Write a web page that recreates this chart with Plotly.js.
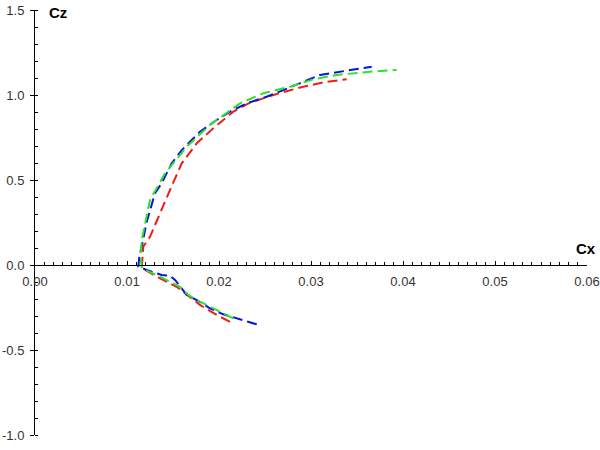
<!DOCTYPE html>
<html>
<head>
<meta charset="utf-8">
<script src="https://cdn.plot.ly/plotly-3.0.1.min.js"></script>
<style>html,body{margin:0;padding:0;background:#fff;}#chart{width:600px;height:450px;}</style>
</head>
<body>
<div id="chart"></div>
<script>
// Blue series (lower branch end -> upper branch end)
const blueCx = [0.0241, 0.02228, 0.02047, 0.01902, 0.01758, 0.01649, 0.01576, 0.01522, 0.01467, 0.01377, 0.01214, 0.01123,
  0.01136, 0.0116, 0.01214, 0.01304, 0.01377, 0.01486, 0.01595, 0.01793, 0.01975, 0.0212, 0.02301, 0.02518, 0.02699, 0.02916, 0.03098, 0.03388, 0.0366];
const blueCz = [-0.349, -0.318, -0.29, -0.255, -0.206, -0.176, -0.122, -0.088, -0.063, -0.059, -0.029, -0.01,
  0.059, 0.108, 0.253, 0.422, 0.481, 0.598, 0.676, 0.784, 0.853, 0.902, 0.951, 0.99, 1.029, 1.078, 1.118, 1.143, 1.166];

// Green series
const greenCx = [0.02155, 0.01975, 0.01793, 0.01666, 0.01576, 0.01359, 0.0116,
  0.01147, 0.0116, 0.0125, 0.01413, 0.01649, 0.01902, 0.02228, 0.02482, 0.02772, 0.03025, 0.03279, 0.03641, 0.03931];
const greenCz = [-0.314, -0.265, -0.216, -0.176, -0.128, -0.069, -0.019,
  0.059, 0.147, 0.382, 0.539, 0.696, 0.824, 0.951, 1.01, 1.049, 1.092, 1.118, 1.137, 1.147];

// Red series
const redCx = [0.0212, 0.01975, 0.01793, 0.0163, 0.0154, 0.01359, 0.0116,
  0.01168, 0.01177, 0.0125, 0.0134, 0.01467, 0.01595, 0.01758, 0.01938, 0.02155, 0.02337, 0.02627, 0.02916, 0.03171, 0.03388];
const redCz = [-0.334, -0.294, -0.235, -0.166, -0.128, -0.078, -0.019,
  0.041, 0.108, 0.166, 0.284, 0.441, 0.598, 0.716, 0.804, 0.902, 0.955, 1.006, 1.049, 1.078, 1.092];

const xTickVals = [0, 0.01, 0.02, 0.03, 0.04, 0.05, 0.06];
const xTickText = ['0.00', '0.01', '0.02', '0.03', '0.04', '0.05', '0.06'];
const yTickVals = [-1.0, -0.5, 0.0, 0.5, 1.0, 1.5];
const yTickText = ['-1.0', '-0.5', '0.0', '0.5', '1.0', '1.5'];

const dashStyle = '10px,5px';
function series(x, y, color) {
  return {x: x, y: y, type: 'scatter', mode: 'lines', line: {color: color, width: 2, dash: dashStyle}, hoverinfo: 'skip', showlegend: false};
}
const traces = [
  series(redCx, redCz, '#ee1c1c'),
  series(blueCx, blueCz, '#0a14d8'),
  series(greenCx, greenCz, '#2ee02e')
];

const tickFont = {family: 'Liberation Sans, Arial, sans-serif', size: 13, color: '#333'};
const layout = {
  width: 600, height: 450,
  margin: {l: 35, r: 13, t: 10, b: 15, pad: 0},
  paper_bgcolor: '#fff', plot_bgcolor: '#fff',
  showlegend: false,
  xaxis: {
    range: [0, 0.06], anchor: 'free', position: 0.4,
    showgrid: false, zeroline: false,
    showline: true, linecolor: '#000', linewidth: 1,
    tickmode: 'array', tickvals: xTickVals, ticktext: xTickText,
    ticks: 'inside', ticklen: 4, tickcolor: '#000', tickwidth: 1,
    ticklabelstandoff: 4,
    minor: {dtick: 0.001, ticks: 'inside', ticklen: 3, tickcolor: '#000', showgrid: false},
    tickfont: tickFont, fixedrange: true
  },
  xaxis2: {
    range: [0, 0.06], overlaying: 'x', anchor: 'free', position: 0.4,
    showgrid: false, zeroline: false, showline: false,
    tickmode: 'array', tickvals: xTickVals, ticks: 'outside', ticklen: 4, tickcolor: '#000',
    showticklabels: false
  },
  yaxis: {
    range: [-1, 1.5],
    showgrid: false, zeroline: false,
    showline: true, linecolor: '#000', linewidth: 1,
    tickmode: 'array', tickvals: yTickVals, ticktext: yTickText,
    ticks: 'outside', ticklen: 4, tickcolor: '#000', tickwidth: 1,
    ticklabelstandoff: 3,
    minor: {dtick: 0.1, ticks: 'inside', ticklen: 3, tickcolor: '#000', showgrid: false},
    tickfont: tickFont, fixedrange: true
  },
  yaxis2: {
    range: [-1, 1.5], overlaying: 'y', anchor: 'x', side: 'left',
    showgrid: false, zeroline: false, showline: false,
    tickmode: 'array', tickvals: yTickVals, ticks: 'inside', ticklen: 3, tickcolor: '#000',
    showticklabels: false
  },
  annotations: [
    {text: '<b>Cx</b>', xref: 'paper', yref: 'paper', x: 0.976, y: 0.44, xanchor: 'left', yanchor: 'middle', showarrow: false,
     font: {family: 'Liberation Sans, Arial, sans-serif', size: 15, color: '#000'}},
    {text: '<b>Cz</b>', xref: 'paper', yref: 'paper', x: 0.022, y: 0.994, xanchor: 'left', yanchor: 'middle', showarrow: false,
     font: {family: 'Liberation Sans, Arial, sans-serif', size: 15, color: '#000'}}
  ]
};

Plotly.newPlot('chart', traces, layout, {staticPlot: true, displayModeBar: false});
</script>
</body>
</html>
